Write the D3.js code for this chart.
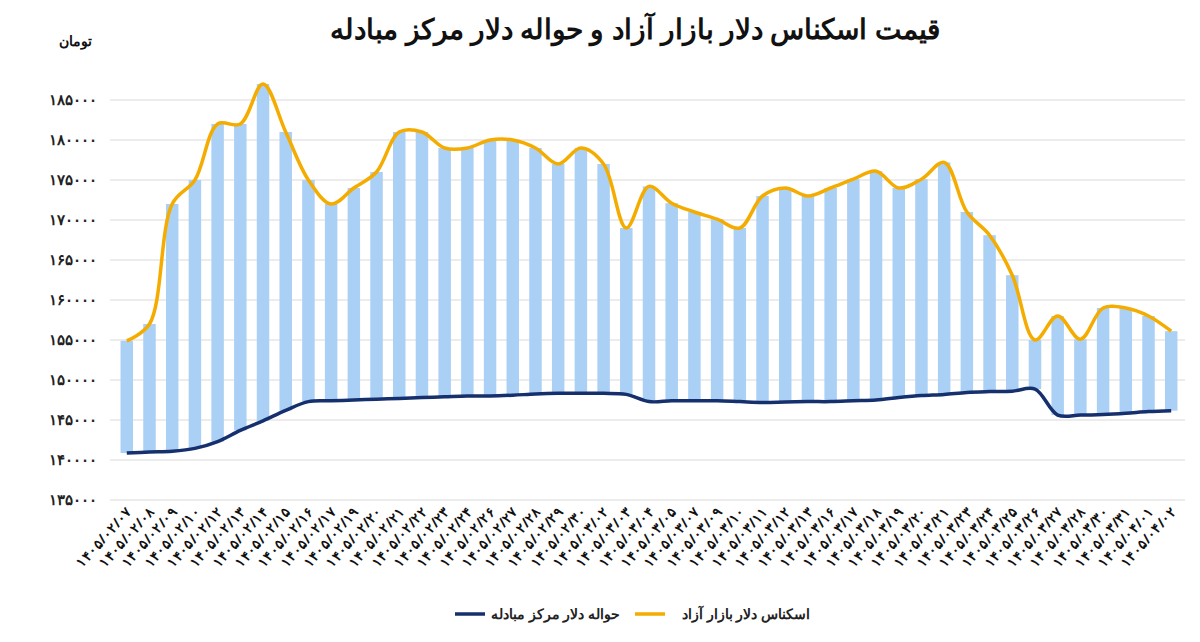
<!DOCTYPE html>
<html><head><meta charset="utf-8">
<script src="https://cdn.jsdelivr.net/npm/d3@7"></script>
<style>body{margin:0;background:#fff;font-family:"Noto Sans",sans-serif}</style>
</head><body><svg id="c" width="1200" height="642"></svg>
<script>
const dates = ["1405/02/07","1405/02/08","1405/02/09","1405/02/10","1405/02/12","1405/02/13","1405/02/14","1405/02/15","1405/02/16","1405/02/17","1405/02/19","1405/02/20","1405/02/21","1405/02/22","1405/02/23","1405/02/24","1405/02/26","1405/02/27","1405/02/28","1405/02/29","1405/02/30","1405/03/02","1405/03/03","1405/03/04","1405/03/05","1405/03/07","1405/03/09","1405/03/10","1405/03/11","1405/03/12","1405/03/13","1405/03/16","1405/03/17","1405/03/18","1405/03/19","1405/03/20","1405/03/21","1405/03/23","1405/03/24","1405/03/25","1405/03/26","1405/03/27","1405/03/28","1405/03/30","1405/03/31","1405/04/01","1405/04/02"];
const freeMarket = [154900,157000,172000,175000,182000,182000,187000,181000,175000,172000,174000,176000,181000,181000,179000,179000,180000,180000,179000,177000,179000,177000,169000,174200,172100,171000,170100,169000,173000,174000,173000,174000,175100,176100,174000,175100,177200,171000,168100,163100,155000,158000,155100,159000,159000,158000,156100];
const exchangeCenter = [140870,141000,141100,141450,142300,143700,144900,146200,147300,147400,147500,147600,147700,147800,147900,148000,148000,148100,148250,148330,148330,148330,148200,147300,147400,147400,147400,147300,147200,147250,147300,147300,147400,147500,147800,148050,148200,148450,148550,148600,148870,145620,145620,145700,145850,146050,146170];
const yTicks = [135000,140000,145000,150000,155000,160000,165000,170000,175000,180000,185000];
const title = "قیمت اسکناس دلار بازار آزاد و حواله دلار مرکز مبادله";
const unit = "تومان";
const seriesNames = ["حواله دلار مرکز مبادله","اسکناس دلار بازار آزاد"];

const fa = s => String(s).replace(/\d/g, d => "۰۱۲۳۴۵۶۷۸۹"[d]);
const svg = d3.select("#c");
const x = d3.scaleBand().domain(dates).range([116, 1182]).paddingInner(0.45).paddingOuter(0.2);
const y = d3.scaleLinear().domain([135000,185000]).range([500,100]);
const cx = d => x(d) + x.bandwidth()/2;

svg.append("g").selectAll("line").data(yTicks).join("line")
  .attr("x1",110).attr("x2",1185).attr("y1",d=>y(d)).attr("y2",d=>y(d))
  .attr("stroke","#d9d9d9").attr("stroke-width",1);
svg.append("g").selectAll("text").data(yTicks).join("text")
  .attr("x",97).attr("y",d=>y(d)+5).attr("text-anchor","end")
  .attr("font-size",15).attr("font-weight","bold").attr("fill","#222").text(d=>fa(d));

svg.append("g").selectAll("rect").data(dates).join("rect")
  .attr("x",d=>x(d)).attr("width",x.bandwidth())
  .attr("y",(d,i)=>y(freeMarket[i])).attr("height",(d,i)=>y(exchangeCenter[i])-y(freeMarket[i]))
  .attr("fill","#abd0f6");

const line = vals => d3.line().x((d,i)=>cx(dates[i])).y(d=>y(d)).curve(d3.curveCatmullRom.alpha(0.5))(vals);
svg.append("path").attr("d",line(exchangeCenter)).attr("fill","none").attr("stroke","#16306e").attr("stroke-width",3.5);
svg.append("path").attr("d",line(freeMarket)).attr("fill","none").attr("stroke","#f5ac00").attr("stroke-width",3.5);

svg.append("g").selectAll("text").data(dates).join("text")
  .attr("transform",d=>`translate(${cx(d)+6},${512}) rotate(-48)`)
  .attr("text-anchor","end").attr("font-size",13.5).attr("font-weight","bold").attr("fill","#111")
  .attr("direction","ltr").text(d=>fa(d));

svg.append("text").attr("x",635).attr("y",39).attr("text-anchor","middle")
  .attr("font-size",28).attr("font-weight","bold").attr("fill","#111").text(title);
svg.append("text").attr("x",92).attr("y",46).attr("text-anchor","end")
  .attr("font-size",14).attr("font-weight","bold").attr("fill","#111").text(unit);

const lg = [{n:seriesNames[0],c:"#16306e",x:455,tx:620},{n:seriesNames[1],c:"#f5ac00",x:635,tx:810}];
lg.forEach(l=>{
  svg.append("line").attr("x1",l.x).attr("x2",l.x+30).attr("y1",614).attr("y2",614).attr("stroke",l.c).attr("stroke-width",3.5);
  svg.append("text").attr("x",l.tx).attr("y",619).attr("text-anchor","end").attr("font-size",14).attr("font-weight","bold").attr("fill","#222").text(l.n);
});
</script></body></html>
